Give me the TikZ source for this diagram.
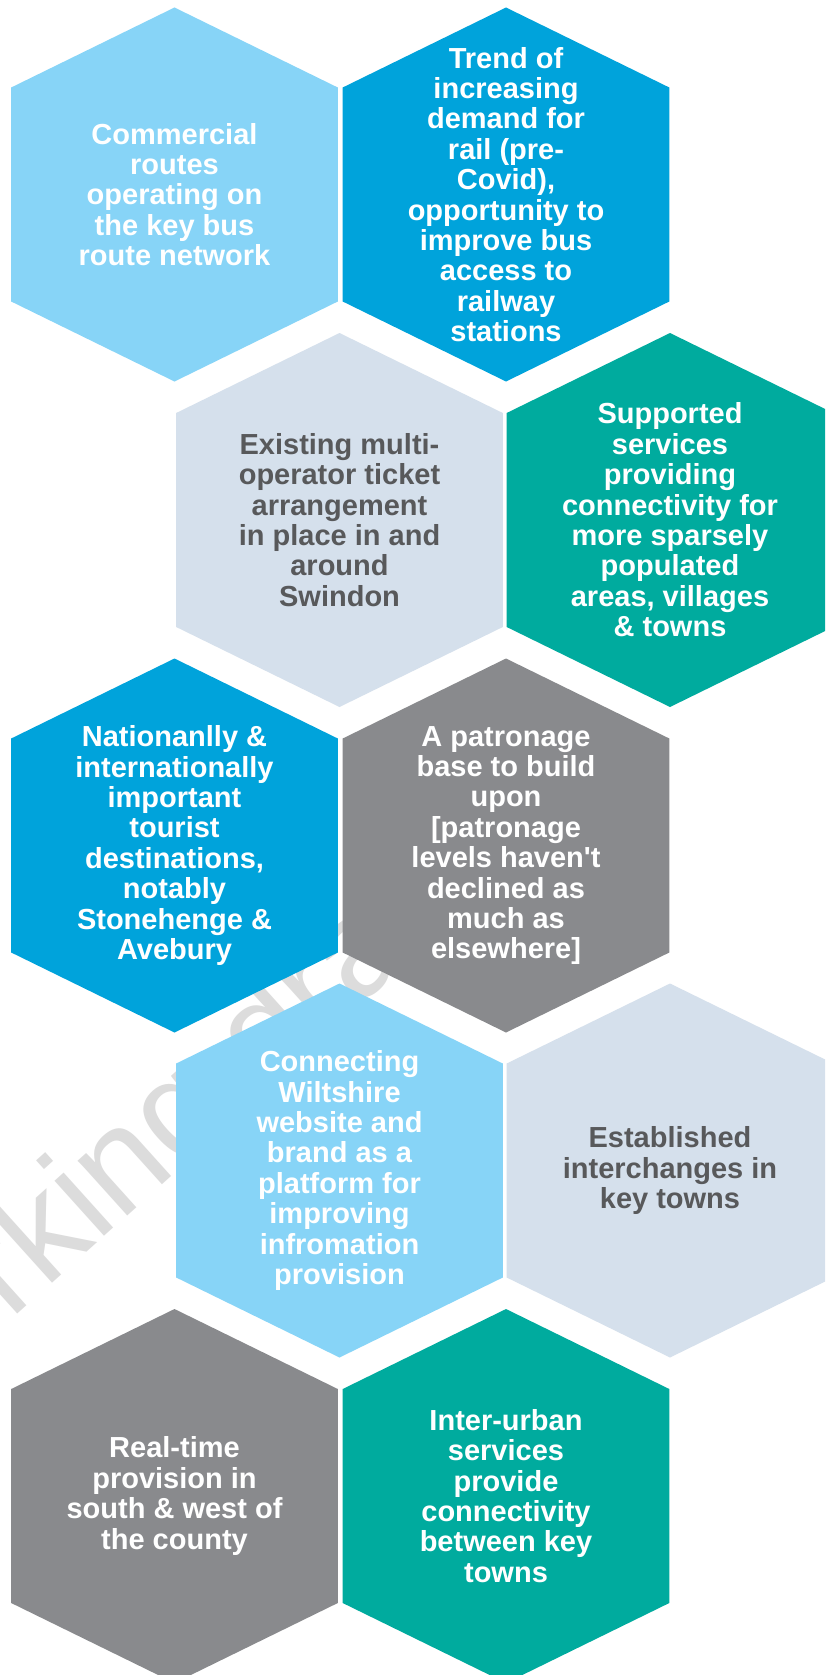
\documentclass[tikz,border=0pt]{standalone}
\usepackage{fontspec}
\setmainfont{Liberation Sans}
\newfontfamily\plainsans{Liberation Sans}
\definecolor{hexlight}{HTML}{87D4F7}
\definecolor{hexblue}{HTML}{00A3DB}
\definecolor{hexpale}{HTML}{D5E0EC}
\definecolor{hexteal}{HTML}{00AB9E}
\definecolor{hexgrey}{HTML}{898A8D}
\definecolor{darktext}{HTML}{58595B}
\definecolor{wmgrey}{HTML}{DCDCDC}
\newcommand{\straightquote}{{\plainsans\bfseries\char"27}}
\tikzset{
  hextext/.style={font=\bfseries\fontsize{29}{30.4}\selectfont, align=center, inner sep=0pt},
  watermark/.style={text=wmgrey, font=\fontsize{140}{142}\selectfont, inner sep=0pt}
}
\newcommand{\hexcell}[6]{%
  \fill[#4] (#2,#3-187) -- (#2+163.3,#3-107) -- (#2+163.3,#3+107) -- (#2,#3+187)
     -- (#2-163.3,#3+107) -- (#2-163.3,#3-107) -- cycle;
  \node[hextext, text=#5] (#1) at (#2,#3) {#6};
}
\begin{document}
\begin{tikzpicture}[x=1pt, y=-1pt]
\useasboundingbox (0,0) rectangle (825,1675);
\clip (0,0) rectangle (825,1675);
\fill[white] (0,0) rectangle (825,1675);
\node[watermark, anchor=base west, rotate=42] (wm) at (-143.6,1459.8) {Working draft};
% row 1
\hexcell{a}{174.5}{194.5}{hexlight}{white}{Commercial\\routes\\operating on\\the key bus\\route network}
\hexcell{b}{506}{194.5}{hexblue}{white}{Trend of\\increasing\\demand for\\rail (pre-\\Covid),\\opportunity to\\improve bus\\access to\\railway\\stations}
% row 2
\hexcell{c}{339.5}{520}{hexpale}{darktext}{Existing multi-\\operator ticket\\arrangement\\in place in and\\around\\Swindon}
\hexcell{d}{670}{520}{hexteal}{white}{Supported\\services\\providing\\connectivity for\\more sparsely\\populated\\areas, villages\\\& towns}
% row 3
\hexcell{e}{174.5}{845.5}{hexblue}{white}{Nationanlly \&\\internationally\\important\\tourist\\destinations,\\notably\\Stonehenge \&\\Avebury}
\hexcell{f}{506}{845.5}{hexgrey}{white}{A patronage\\base to build\\upon\\{[}patronage\\levels haven\straightquote t\\declined as\\much as\\elsewhere]}
% row 4
\hexcell{g}{339.5}{1170.5}{hexlight}{white}{Connecting\\Wiltshire\\website and\\brand as a\\platform for\\improving\\infromation\\provision}
\hexcell{h}{670}{1170.5}{hexpale}{darktext}{Established\\interchanges in\\key towns}
% row 5
\hexcell{i}{174.5}{1496}{hexgrey}{white}{Real-time\\provision in\\south \& west of\\the county}
\hexcell{j}{506}{1496}{hexteal}{white}{Inter-urban\\services\\provide\\connectivity\\between key\\towns}
\end{tikzpicture}
\end{document}
